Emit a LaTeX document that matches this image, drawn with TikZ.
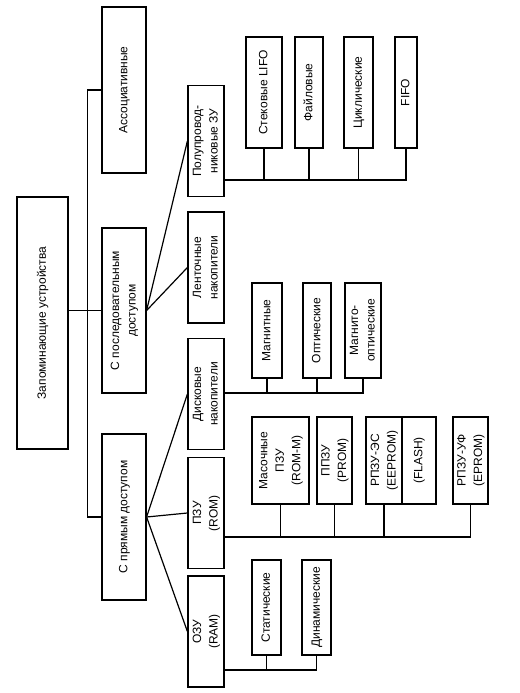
\documentclass[tikz,border=0pt]{standalone}
\usepackage{fontspec}
\setmainfont{Liberation Sans}
\newcommand\vtext[1]{\rotatebox{90}{\begin{tabular}{@{}c@{}}#1\end{tabular}}}
\tikzset{
  box/.style 2 args={draw,line width=0.9pt,inner sep=0pt,
    minimum width=#1*0.75pt,minimum height=#2*0.75pt,
    font=\fontsize{9}{12.4}\selectfont},
  line/.style={line width=0.9pt}
}
\begin{document}
\begin{tikzpicture}[x=0.75pt,y=-0.75pt]
		\useasboundingbox (0,0) rectangle (520,693);
		% root and the first two levels
		\node[box={51}{252}] (mem) at (42.5,323) {\vtext{Запоминающие устройства}};
		\node[box={44}{166}] (assoc) at (124,90) {\vtext{Ассоциативные}};
		\node[box={44}{165}] (seq) at (124,310.5) {\vtext{С последовательным\\доступом}};
		\node[box={44}{166}] (direct) at (124,517) {\vtext{С прямым доступом}};
		\foreach \n/\y/\t in {polu/141/{Полупровод-\\никовые ЗУ},tape/267.5/{Ленточные\\накопители},
			disk/394/{Дисковые\\накопители},rom/513/{ПЗУ\\(ROM)},ram/631.5/{ОЗУ\\(RAM)}}
		\node[box={36}{111}] (\n) at (206,\y) {\vtext{\t}};
		% third level
		\foreach \n/\x/\y/\w/\h/\t in {lifo/264/92.5/36/111/{Стековые LIFO},file/309/92.5/28/111/{Файловые},
			cycl/358.5/92.5/29/111/{Циклические},fifo/406/92.5/22/111/{FIFO},
			magn/267/330.5/30/95/{Магнитные},opt/317/330.5/28/95/{Оптические},
			magopt/363/330.5/36/95/{Магнито-\\оптические},
			mask/280.5/460.5/57/87/{Масочные\\ПЗУ\\(ROM-M)},prom/334.5/460.5/35/87/{ППЗУ\\(PROM)},
			eeprom/384/460.5/36/87/{РПЗУ-ЭС\\(EEPROM)},flash/419/460.5/34/87/{(FLASH)},
			eprom/470.5/460.5/35/87/{РПЗУ-УФ\\(EPROM)},
			stat/266.5/607.5/29/95/{Статические},dyn/316.5/607.5/29/95/{Динамические}}
		\node[box={\w}{\h}] (\n) at (\x,\y) {\vtext{\t}};
		% connectors
		\draw[line] (mem.east |- seq.west) -- (seq.west);
		\draw[line] (assoc.west) -- ++(-14,0) |- (direct.west);
		\foreach \c in {polu,tape}
		\draw[line] (seq.east) -- (\c.west);
		\foreach \c in {disk,rom,ram}
		\draw[line] (direct.east) -- (\c.west);
		\path
		(polu.east |- 0,180) coordinate (b1)
		(disk.east |- 0,393) coordinate (b2)
		(rom.east |- 0,537) coordinate (b3)
		(ram.east |- 0,670) coordinate (b4);
		\foreach \b/\c in {b1/lifo,b1/file,b1/cycl,b1/fifo,b2/magn,b2/opt,b2/magopt,
			b3/mask,b3/prom,b3/eeprom,b3/eprom,b4/stat,b4/dyn}
		\draw[line] (\b) -| (\c.south);
		
	\end{tikzpicture}
\end{document}
